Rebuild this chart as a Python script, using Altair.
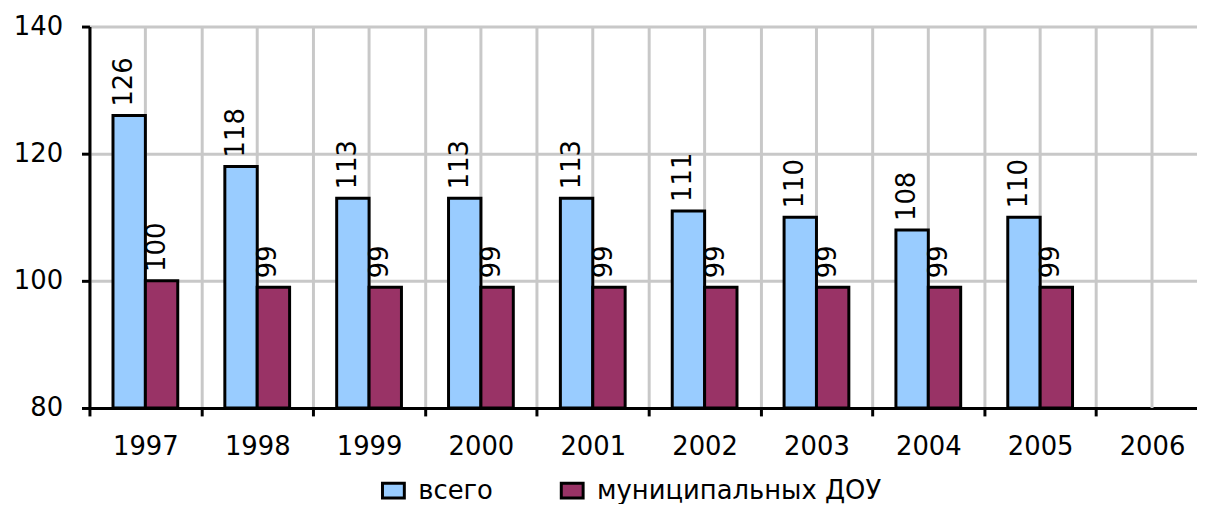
import altair as alt
import pandas as pd

years = ["1997", "1998", "1999", "2000", "2001", "2002", "2003", "2004", "2005", "2006"]
bar_years = ["1997", "1998", "1999", "2000", "2001", "2002", "2003", "2004", "2005"]
vsego = [126, 118, 113, 113, 113, 111, 110, 108, 110]
munic = [100, 99, 99, 99, 99, 99, 99, 99, 99]
series_names = ["всего", "муниципальных ДОУ"]
colors = ["#99CCFF", "#993366"]
y_ticks = [80, 100, 120, 140]
y_min = 80
y_max = 140

rows = []
for yr, a, b in zip(bar_years, vsego, munic):
    rows.append({"year": yr, "series": series_names[0], "value": a})
    rows.append({"year": yr, "series": series_names[1], "value": b})
df = pd.DataFrame(rows)
grid_df = pd.DataFrame({"year": years})

W = 1115
H = 384
FONT = "DejaVu Sans"
GRID = "#c8c8c8"

x_scale = alt.Scale(domain=years, range=[0, 1126], paddingInner=0, paddingOuter=0)
xoff_scale = alt.Scale(domain=series_names, paddingInner=0, paddingOuter=0.727)
y_scale = alt.Scale(domain=[y_min, y_max], nice=False, zero=False)

x_axis = alt.Axis(
    title=None, tickBand="extent", grid=True, gridColor=GRID, gridWidth=3,
    domainColor="black", domainWidth=3, tickColor="black", tickWidth=3,
    tickSize=8, labelFontSize=26, labelFont=FONT, labelColor="black",
    labelPadding=18, labelAngle=0,
)
y_axis = alt.Axis(
    title=None, values=y_ticks, grid=True, gridColor=GRID, gridWidth=3,
    domainColor="black", domainWidth=3, tickColor="black", tickWidth=3,
    tickSize=8, labelFontSize=26, labelFont=FONT, labelColor="black",
    labelPadding=19,
)

center_rules = alt.Chart(grid_df).mark_rule(color=GRID, strokeWidth=3).encode(
    x=alt.X("year:N", scale=x_scale, axis=x_axis),
    y=alt.value(0),
    y2=alt.value(H),
)

bars = alt.Chart(df).mark_bar(stroke="black", strokeWidth=3).encode(
    x=alt.X("year:N", scale=x_scale, axis=x_axis),
    xOffset=alt.XOffset("series:N", scale=xoff_scale, sort=series_names),
    y=alt.Y("value:Q", scale=y_scale, axis=y_axis),
    y2=alt.datum(y_min),
    color=alt.Color(
        "series:N",
        scale=alt.Scale(domain=series_names, range=colors),
        sort=series_names,
        legend=alt.Legend(
            orient="none", legendX=293, legendY=454, direction="horizontal", title=None,
            labelFontSize=26, labelFont=FONT, labelColor="black", labelLimit=500,
            symbolType="M-1,-0.68H1V0.68H-1Z", symbolSize=484,
            symbolStrokeWidth=3, symbolStrokeColor="black",
            labelOffset=12, columnPadding=62, padding=0,
        ),
    ),
)

labels = alt.Chart(df).mark_text(
    angle=270, align="left", baseline="middle", dx=9, dy=-5,
    fontSize=26, font=FONT, color="black",
).encode(
    x=alt.X("year:N", scale=x_scale, axis=x_axis),
    xOffset=alt.XOffset("series:N", scale=xoff_scale, sort=series_names),
    y=alt.Y("value:Q", scale=y_scale, axis=y_axis),
    text=alt.Text("value:Q"),
)

chart = alt.layer(center_rules, bars, labels).properties(
    width=W,
    height=H,
    autosize=alt.AutoSizeParams(type="none"),
    padding={"left": 82, "top": 17, "right": 0, "bottom": 95},
).configure_view(stroke=None)

chart.save("out.html", embed_options={"renderer": "svg", "actions": False})
